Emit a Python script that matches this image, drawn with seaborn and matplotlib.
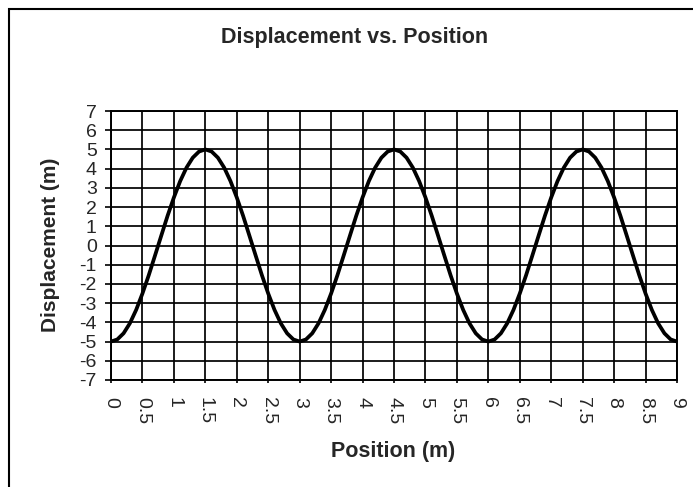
import matplotlib
matplotlib.use("Agg")
import matplotlib.pyplot as plt
import seaborn as sns
import pandas as pd
from matplotlib.patches import Rectangle

# ---- data ----
position = [
    0.0, 0.1, 0.2, 0.3, 0.4, 0.5, 0.6, 0.7, 0.8, 0.9,
    1.0, 1.1, 1.2, 1.3, 1.4, 1.5, 1.6, 1.7, 1.8, 1.9,
    2.0, 2.1, 2.2, 2.3, 2.4, 2.5, 2.6, 2.7, 2.8, 2.9,
    3.0, 3.1, 3.2, 3.3, 3.4, 3.5, 3.6, 3.7, 3.8, 3.9,
    4.0, 4.1, 4.2, 4.3, 4.4, 4.5, 4.6, 4.7, 4.8, 4.9,
    5.0, 5.1, 5.2, 5.3, 5.4, 5.5, 5.6, 5.7, 5.8, 5.9,
    6.0, 6.1, 6.2, 6.3, 6.4, 6.5, 6.6, 6.7, 6.8, 6.9,
    7.0, 7.1, 7.2, 7.3, 7.4, 7.5, 7.6, 7.7, 7.8, 7.9,
    8.0, 8.1, 8.2, 8.3, 8.4, 8.5, 8.6, 8.7, 8.8, 8.9,
    9.0,
]
displacement = [
    -5.00, -4.89, -4.57, -4.05, -3.35, -2.50, -1.55, -0.52, 0.52, 1.55,
    2.50, 3.35, 4.05, 4.57, 4.89, 5.00, 4.89, 4.57, 4.05, 3.35,
    2.50, 1.55, 0.52, -0.52, -1.55, -2.50, -3.35, -4.05, -4.57, -4.89,
    -5.00, -4.89, -4.57, -4.05, -3.35, -2.50, -1.55, -0.52, 0.52, 1.55,
    2.50, 3.35, 4.05, 4.57, 4.89, 5.00, 4.89, 4.57, 4.05, 3.35,
    2.50, 1.55, 0.52, -0.52, -1.55, -2.50, -3.35, -4.05, -4.57, -4.89,
    -5.00, -4.89, -4.57, -4.05, -3.35, -2.50, -1.55, -0.52, 0.52, 1.55,
    2.50, 3.35, 4.05, 4.57, 4.89, 5.00, 4.89, 4.57, 4.05, 3.35,
    2.50, 1.55, 0.52, -0.52, -1.55, -2.50, -3.35, -4.05, -4.57, -4.89,
    -5.00,
]
x_ticks = [0, 0.5, 1, 1.5, 2, 2.5, 3, 3.5, 4, 4.5, 5, 5.5, 6, 6.5, 7, 7.5, 8, 8.5, 9]
x_tick_labels = ["0", "0.5", "1", "1.5", "2", "2.5", "3", "3.5", "4", "4.5",
                 "5", "5.5", "6", "6.5", "7", "7.5", "8", "8.5", "9"]
y_ticks = [-7, -6, -5, -4, -3, -2, -1, 0, 1, 2, 3, 4, 5, 6, 7]
y_tick_labels = ["-7", "-6", "-5", "-4", "-3", "-2", "-1", "0",
                 "1", "2", "3", "4", "5", "6", "7"]

title = "Displacement vs. Position"
x_label = "Position (m)"
y_label = "Displacement (m)"

df = pd.DataFrame({"Position": position, "Displacement": displacement})

sns.set_style("white")
plt.rcParams["font.family"] = ["Liberation Sans", "DejaVu Sans"]

W, H = 693, 487
fig = plt.figure(figsize=(W / 100, H / 100), dpi=100)
fig.patch.set_facecolor("white")

ax = fig.add_axes([111 / W, 1 - 380 / H, (677 - 111) / W, (380 - 111) / H])

sns.lineplot(data=df, x="Position", y="Displacement", ax=ax,
             color="black", linewidth=2.7, sort=False, zorder=3)

ax.set_xlim(0, 9)
ax.set_ylim(-7, 7)
ax.set_xticks(x_ticks)
ax.set_xticklabels(x_tick_labels, rotation=270, fontsize=14)
ax.set_yticks(y_ticks)
ax.set_yticklabels(y_tick_labels, fontsize=14)
ax.set_xlabel("")
ax.set_ylabel("")

ax.grid(True, color="black", linewidth=1.25)
ax.set_axisbelow(True)
for s in ax.spines.values():
    s.set_color("black")
    s.set_linewidth(1.4)
    s.set_visible(True)

ax.tick_params(axis="y", direction="out", length=4.3, width=1.2, color="black",
               pad=6, left=True)
ax.tick_params(axis="x", direction="out", length=2, width=1.2, color="black",
               pad=10, bottom=True)
for lbl in ax.get_xticklabels():
    lbl.set_va("top")
    lbl.set_ha("center")

fig.text(355 / W, 1 - 38 / H, title, ha="center", va="center",
         fontsize=15.5, fontweight="bold")
fig.text(393 / W, 1 - 452 / H, x_label, ha="center", va="center",
         fontsize=15.5, fontweight="bold")
fig.text(51 / W, 1 - 245 / H, y_label, ha="center", va="center",
         rotation=90, fontsize=15, fontweight="bold")

# outer chart frame (extends beyond right/bottom edges as in the reference)
fig.patches.append(Rectangle((9 / W, -0.1), 1.2, 1 - 9 / H + 0.1,
                             transform=fig.transFigure, fill=False,
                             edgecolor="black", linewidth=1.5, zorder=10))

fig.savefig("out.png", dpi=100, facecolor="white")
